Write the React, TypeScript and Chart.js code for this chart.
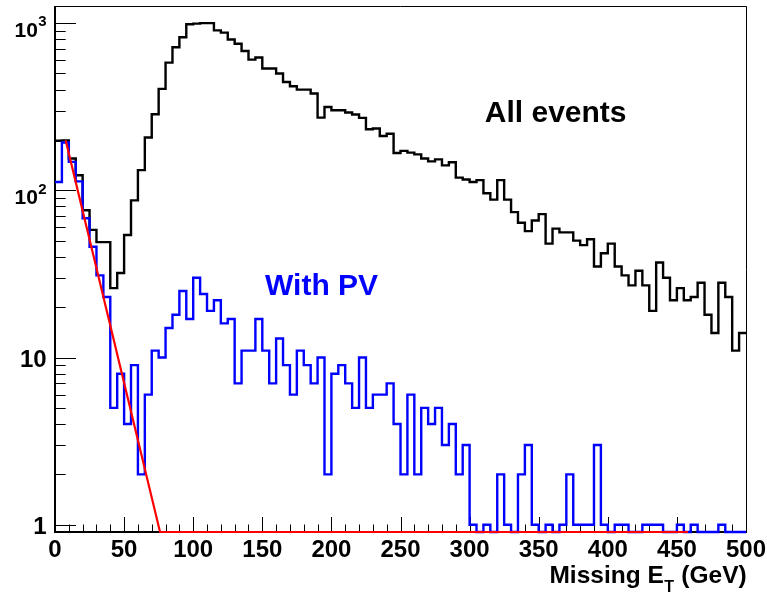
import React, { useEffect, useRef } from 'react';
import { Chart, registerables } from 'chart.js';

Chart.register(...registerables);

// ---- data ----
const BIN_WIDTH = 5; // GeV
const X_MIN = 0;
const X_MAX = 500;
const Y_MIN = 0.9045;
const Y_MAX = 1248;

// "All events" histogram, 5 GeV bins from 0 to 500 GeV
const allEvents = [
  198, 199, 155, 123, 76, 58, 49, 49, 26, 32,
  54, 87, 132, 207, 285, 404, 580, 717, 822, 984,
  993, 1000, 1000, 905, 877, 797, 753, 681, 605, 622,
  535, 535, 499, 444, 419, 400, 400, 379, 272, 315,
  301, 301, 292, 284, 271, 232, 234, 211, 218, 167,
  172, 168, 164, 155, 149, 153, 141, 147, 119, 116,
  112, 115, 96, 88, 115, 88, 74, 64, 57, 66,
  72, 48, 59, 56, 56, 50, 47, 51, 35, 42,
  48, 35, 31, 27, 33, 27, 19, 37, 30, 22,
  26, 22, 23, 28, 18, 14, 28, 23, 11, 14,
];

// "With PV" histogram, same binning
const withPV = [
  112, 193, 148, 113, 68, 46, 31, 23, 5, 8,
  4, 9, 2, 6, 11, 10, 15, 18, 25, 17,
  30, 24, 19, 22, 16, 17, 7, 11, 11, 17,
  11, 7, 13, 9, 6, 11, 9, 7, 10, 2,
  8, 9, 7, 5, 10, 5, 6, 6, 7, 4,
  2, 6, 2, 5, 4, 5, 3, 4, 2, 3,
  1, 0, 1, 0, 2, 1, 0, 2, 3, 1,
  0, 1, 0, 1, 2, 1, 1, 1, 3, 1,
  0, 1, 1, 0, 0, 1, 1, 1, 0, 0,
  1, 0, 1, 0, 0, 0, 1, 0, 0, 0,
];

// Exponential fit (red), straight in log space, clipped at the axis minimum
const fitX = [7.7, 76, 458];
const fitY = [199, Y_MIN, Y_MIN];

// Axis ticks / labels
const xTickValues = [0, 50, 100, 150, 200, 250, 300, 350, 400, 450, 500];
const xTickLabels = ['0', '50', '100', '150', '200', '250', '300', '350', '400', '450', '500'];
const xMinorStep = 10;
const yTickValues = [1, 10, 100, 1000];
const yTickBase = ['1', '10', '10', '10'];
const yTickExp = ['', '', '2', '3'];

const xTitleMain = 'Missing E';
const xTitleSub = 'T';
const xTitleTail = ' (GeV)';

const labelAll = { text: 'All events', x: 311, y: 256, color: '#000000' };
const labelPV = { text: 'With PV', x: 152, y: 23.6, color: '#0000ff' };

const FONT = '"Liberation Sans", Arial, Helvetica, sans-serif';

function histPoints(values: number[]) {
  const pts: { x: number; y: number }[] = [];
  values.forEach((v, i) => {
    const y = Math.max(v, Y_MIN);
    pts.push({ x: i * BIN_WIDTH, y });
    pts.push({ x: (i + 1) * BIN_WIDTH, y });
  });
  return pts;
}

const rootAxesPlugin = {
  id: 'rootAxes',
  beforeDatasetsDraw(chart: any) {
    const { ctx, chartArea: a, scales } = chart;
    const xs = scales.x;
    const ys = scales.y;
    ctx.save();
    ctx.strokeStyle = '#000';
    // thin top / right frame
    ctx.lineWidth = 1;
    ctx.beginPath();
    ctx.moveTo(a.left, a.top - 0.5);
    ctx.lineTo(a.right + 0.5, a.top - 0.5);
    ctx.lineTo(a.right + 0.5, a.bottom);
    ctx.stroke();
    // x ticks
    ctx.lineWidth = 1;
    ctx.beginPath();
    for (let v = X_MIN; v <= X_MAX; v += xMinorStep) {
      const px = Math.round(xs.getPixelForValue(v)) + 0.5;
      const major = xTickValues.includes(v);
      const len = major ? 15 : 7.5;
      ctx.moveTo(px, a.bottom);
      ctx.lineTo(px, a.bottom - len);
    }
    ctx.stroke();
    // y ticks (log)
    ctx.beginPath();
    for (let d = 0.1; d <= 10000; d *= 10) {
      for (let m = 1; m <= 9; m++) {
        const v = m * d;
        if (v < Y_MIN || v > Y_MAX) continue;
        const py = Math.round(ys.getPixelForValue(v)) + 0.5;
        const len = m === 1 ? 21 : 10.7;
        ctx.moveTo(a.left, py);
        ctx.lineTo(a.left + len, py);
      }
    }
    ctx.stroke();
    // thick left / bottom axis lines
    ctx.lineWidth = 2;
    ctx.beginPath();
    ctx.moveTo(a.left, a.top - 1);
    ctx.lineTo(a.left, a.bottom);
    ctx.lineTo(a.right + 1, a.bottom);
    ctx.stroke();
    ctx.restore();
  },
  afterDraw(chart: any) {
    const { ctx, chartArea: a, scales } = chart;
    const xs = scales.x;
    const ys = scales.y;
    ctx.save();
    ctx.fillStyle = '#000';
    // x tick labels
    ctx.font = `bold 24px ${FONT}`;
    ctx.textAlign = 'center';
    ctx.textBaseline = 'alphabetic';
    xTickValues.forEach((v, i) => {
      ctx.fillText(xTickLabels[i], xs.getPixelForValue(v), a.bottom + 24.7);
    });
    // y tick labels
    const rightEdge = a.left - 8.3;
    yTickValues.forEach((v, i) => {
      const py = ys.getPixelForValue(v);
      if (yTickExp[i]) {
        ctx.font = `bold 15px ${FONT}`;
        ctx.textAlign = 'right';
        const ew = ctx.measureText(yTickExp[i]).width;
        ctx.fillText(yTickExp[i], rightEdge, py + 3.3);
        ctx.font = `bold 21px ${FONT}`;
        ctx.fillText(yTickBase[i], rightEdge - ew - 0.5, py + 14);
      } else {
        ctx.font = `bold 24px ${FONT}`;
        ctx.textAlign = 'right';
        ctx.fillText(yTickBase[i], rightEdge, py + 9.5);
      }
    });
    // x axis title, right aligned at the frame
    ctx.textAlign = 'left';
    ctx.font = `bold 24.5px ${FONT}`;
    const w1 = ctx.measureText(xTitleMain).width;
    const w3 = ctx.measureText(xTitleTail).width;
    ctx.font = `bold 16px ${FONT}`;
    const w2 = ctx.measureText(xTitleSub).width;
    const end = a.right + 0.7;
    const start = end - (w1 + w2 + w3) - 1;
    ctx.font = `bold 24.5px ${FONT}`;
    ctx.fillText(xTitleMain, start, a.bottom + 50.7);
    ctx.font = `bold 16px ${FONT}`;
    ctx.fillText(xTitleSub, start + w1 + 0.5, a.bottom + 60);
    ctx.font = `bold 24.5px ${FONT}`;
    ctx.fillText(xTitleTail, start + w1 + w2 + 1, a.bottom + 50.7);
    // annotations
    ctx.font = `bold 30px ${FONT}`;
    [labelAll, labelPV].forEach((l) => {
      ctx.fillStyle = l.color;
      ctx.fillText(l.text, xs.getPixelForValue(l.x), ys.getPixelForValue(l.y));
    });
    ctx.restore();
  },
};

export default function App() {
  const ref = useRef<HTMLCanvasElement | null>(null);
  useEffect(() => {
    if (!ref.current) return;
    const chart = new Chart(ref.current, {
      type: 'line',
      data: {
        datasets: [
          {
            label: 'Fit',
            data: fitX.map((x, i) => ({ x, y: fitY[i] })),
            borderColor: '#ff0000',
            borderWidth: 2.2,
            pointRadius: 0,
            fill: false,
            tension: 0,
            clip: 2,
          },
          {
            label: 'With PV',
            data: histPoints(withPV),
            borderColor: '#0000ff',
            borderWidth: 2.4,
            pointRadius: 0,
            fill: false,
            tension: 0,
            clip: 2,
          },
          {
            label: 'All events',
            data: histPoints(allEvents),
            borderColor: '#000000',
            borderWidth: 2.4,
            pointRadius: 0,
            fill: false,
            tension: 0,
            clip: 2,
          },
        ],
      },
      options: {
        animation: false,
        responsive: false,
        maintainAspectRatio: false,
        devicePixelRatio: 1,
        layout: { padding: { left: 55, right: 21, top: 7, bottom: 65 } },
        plugins: {
          legend: { display: false },
          tooltip: { enabled: false },
          title: { display: false },
        },
        scales: {
          x: { type: 'linear', min: X_MIN, max: X_MAX, display: false },
          y: { type: 'logarithmic', min: Y_MIN, max: Y_MAX, display: false },
        },
      },
      plugins: [rootAxesPlugin],
    });
    return () => chart.destroy();
  }, []);
  return (
    <div style={{ position: 'absolute', left: 0, top: 0, width: 767, height: 597, background: '#fff' }}>
      <canvas ref={ref} width={767} height={597} style={{ display: 'block' }} />
    </div>
  );
}
